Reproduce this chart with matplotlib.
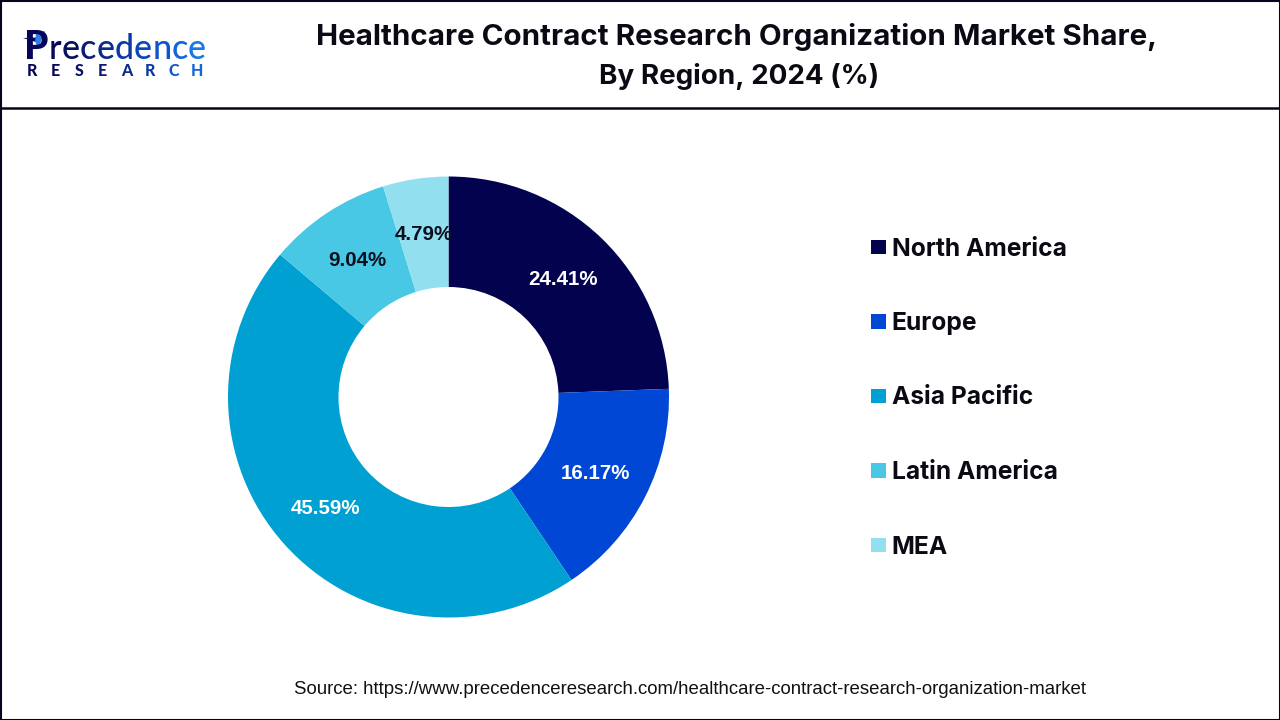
#!/usr/bin/env python3
import matplotlib
matplotlib.use("Agg")
import matplotlib.pyplot as plt
from matplotlib.patches import Rectangle, Polygon

regions = ["North America", "Europe", "Asia Pacific", "Latin America", "MEA"]
shares = [24.41, 16.17, 45.59, 9.04, 4.79]
colors = ["#02024F", "#0047D6", "#00A0D2", "#48C8E4", "#92E0EF"]
pct_colors = ["white", "white", "white", "#0B1020", "#0B1020"]
title_lines = ["Healthcare Contract Research Organization Market Share,", "By Region, 2024 (%)"]
source = "Source: https://www.precedenceresearch.com/healthcare-contract-research-organization-market"
H = 720

fig = plt.figure(figsize=(12.8, 7.2), dpi=100)
ax = fig.add_axes([0, 0, 1, 1])

# donut
wedges, _, pcts = ax.pie(
    shares, colors=colors, startangle=90, counterclock=False,
    center=(448.5, H - 397), radius=220.5, autopct="%.2f%%", pctdistance=0.75,
    wedgeprops=dict(width=110.5, linewidth=0),
    textprops=dict(family="Liberation Sans", fontweight="bold", fontsize=14.8),
)
for t, c in zip(pcts, pct_colors):
    t.set_color(c)
    t.set_y(t.get_position()[1] - 1.5)

ax.set_xlim(0, 1280)
ax.set_ylim(0, H)
ax.set_aspect("equal")
ax.axis("off")

# frame and header rule
ax.add_patch(Rectangle((0.5, 0.5), 1279, H - 1, fill=False, ec="#05051E", lw=1.5))
ax.plot([0, 1280], [H - 107.5, H - 107.5], color="#05051E", lw=1.8)

# title
for line, y, size in zip(title_lines, [37, 77], [21.3, 20]):
    ax.text(736.5 if size > 21 else 739.5, H - y, line, ha="center", va="center", family="Inter",
            fontweight="bold", fontsize=size, color="#0A0A14")

# legend
for i, (name, c) in enumerate(zip(regions, colors)):
    y = 247 + i * 74.5
    ax.add_patch(Rectangle((871, H - y - 7), 14.5, 14.5, color=c, lw=0))
    ax.text(891.5, H - y + 0.5, name, ha="left", va="center_baseline", family="Inter",
            fontweight="bold", fontsize=17.7, color="#0A0A14")

ax.text(690, H - 690, source, ha="center", va="center", family="Liberation Sans",
        fontsize=13.4, color="#111111")

# logo
renderer = fig.canvas.get_renderer()
ax.text(24, H - 59, "P", family="Lato", fontweight="black", fontsize=28,
        color="#05055A", ha="left", va="baseline")
ax.add_patch(Polygon([(23, H - 38), (36, H - 37.5), (36, H - 42)], color="#05055A", lw=0))
ax.add_patch(Polygon([(36, H - 34), (45, H - 31), (38, H - 49), (35, H - 41)], color="#2F7DE8", lw=0))

word = "recedence"
word_colors = ["#05055A", "#07105F", "#0A1C78", "#0B2A8E", "#0C38A5",
               "#0C46BC", "#0D55CC", "#1266DC", "#1A78E6"]
x = 49
for ch, c in zip(word, word_colors):
    t = ax.text(x, H - 59, ch, family="Lato", fontweight="medium", fontsize=24.5,
                color=c, ha="left", va="baseline")
    x += t.get_window_extent(renderer).width + 0.2

research_colors = ["#05055A", "#06085F", "#08106A", "#0A1A7A", "#0B2A8E",
                   "#0C38A5", "#0D55CC", "#1266DC"]
for i, (ch, c) in enumerate(zip("RESEARCH", research_colors)):
    ax.text(32 + i * 23.6, H - 71.5, ch, family="Lato", fontweight="black", fontsize=11.5,
            color=c, ha="center", va="center")

fig.savefig("out.png", dpi=100)
